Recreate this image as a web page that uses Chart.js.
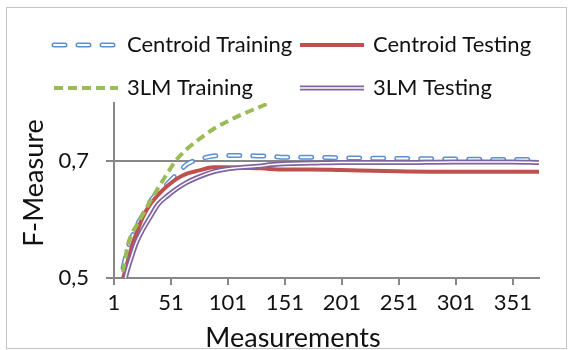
<!DOCTYPE html>
<html lang="en">
<head>
<meta charset="UTF-8">
<title>F-Measure over measurements</title>
<style>
  body { margin: 0; background: #fff; }
  .frame { position: relative; width: 570px; height: 350px; overflow: hidden; }
  .frame-border { position: absolute; left: 6px; top: 7px; width: 561px; height: 342px; border: 1px solid #c4c4c4; box-sizing: border-box; }
  #chart { position: absolute; left: 0; top: 0; }
</style>
</head>
<body>
<div class="frame">
  <div class="frame-border"></div>
  <canvas id="chart" width="570" height="350"></canvas>
</div>

<script src="https://cdn.jsdelivr.net/npm/chart.js@4.4.1/dist/chart.umd.min.js"></script>
<script>
  // values
  const measurements     = [9, 13, 17, 21, 26, 32, 40, 48, 56, 65, 75, 88, 100, 115, 130, 137, 150, 175, 200, 250, 300, 350, 375];
  const centroidTraining = [0.517, 0.550, 0.571, 0.590, 0.607, 0.629, 0.648, 0.662, 0.678, 0.695, 0.703, 0.709, 0.710, 0.710, 0.709, 0.709, 0.707, 0.707, 0.706, 0.705, 0.704, 0.703, 0.703];
  const centroidTesting  = [0.500, 0.527, 0.556, 0.578, 0.603, 0.624, 0.643, 0.658, 0.670, 0.679, 0.684, 0.690, 0.690, 0.689, 0.688, 0.687, 0.686, 0.686, 0.685, 0.683, 0.682, 0.682, 0.682];
  const lmTraining       = [0.510, 0.556, 0.577, 0.591, 0.608, 0.629, 0.655, 0.680, 0.703, 0.721, 0.737, 0.755, 0.768, 0.782, 0.794, 0.800, null, null, null, null, null, null, null];
  const lmTesting        = [0.485, 0.515, 0.540, 0.562, 0.582, 0.602, 0.627, 0.641, 0.653, 0.664, 0.673, 0.682, 0.687, 0.690, 0.692, 0.694, 0.696, 0.697, 0.698, 0.698, 0.699, 0.699, 0.698];
  const seriesNames = ['Centroid Training', 'Centroid Testing', '3LM Training', '3LM Testing'];
  const xTicks = [1, 51, 101, 151, 201, 251, 301, 351];
  const yTicks = [0.5, 0.7];
  const xTitle = 'Measurements';
  const yTitle = 'F-Measure';

  const FONT = 'Lato, "Open Sans", sans-serif';
  const GREY = '#878787';

  function points(values) {
    return measurements.map((m, i) => ({ x: m, y: values[i] }));
  }

  const line = { pointRadius: 0, fill: false, cubicInterpolationMode: 'monotone', clip: 0 };

  const datasets = [
    { ...line, label: seriesNames[0], data: points(centroidTraining), borderColor: '#5b8fd0', borderWidth: 5, borderDash: [11, 13], borderCapStyle: 'round', order: 5 },
    { ...line, label: '', inner: true, data: points(centroidTraining), borderColor: '#ffffff', borderWidth: 2, borderDash: [11, 13], borderCapStyle: 'round', order: 4 },
    { ...line, label: seriesNames[1], data: points(centroidTesting), borderColor: '#c0504d', borderWidth: 4, order: 3 },
    { ...line, label: seriesNames[2], data: points(lmTraining), borderColor: '#9bbb59', borderWidth: 4, borderDash: [9, 5], order: 2 },
    { ...line, label: seriesNames[3], data: points(lmTesting), borderColor: '#8064a2', borderWidth: 5, order: 1 },
    { ...line, label: '', inner: true, data: points(lmTesting), borderColor: '#ffffff', borderWidth: 1.5, order: 0 }
  ];

  // legend in two rows with line samples, plus the axis titles where the original puts them
  const cornerLegend = {
    id: 'cornerLegend',
    afterDraw(chart) {
      const ctx = chart.ctx;
      const spots = [[52, 45], [298, 45], [52, 88], [298, 88]];
      const ds = chart.data.datasets;
      seriesNames.forEach((name, i) => {
        const [x, y] = spots[i];
        const idx = ds.findIndex(d => d.label === name);
        const parts = [ds[idx]];
        if (ds[idx + 1] && ds[idx + 1].inner) parts.push(ds[idx + 1]);
        parts.forEach(d => {
          ctx.save();
          ctx.strokeStyle = d.borderColor;
          ctx.lineWidth = d.borderWidth;
          ctx.lineCap = d.borderCapStyle || 'butt';
          ctx.setLineDash(d.borderDash || []);
          ctx.beginPath();
          ctx.moveTo(x + 2, y);
          ctx.lineTo(x + 66, y);
          ctx.stroke();
          ctx.restore();
        });
        ctx.save();
        ctx.fillStyle = '#111';
        ctx.font = '22px ' + FONT;
        ctx.textBaseline = 'middle';
        ctx.fillText(name, x + 75, y);
        ctx.restore();
      });

      ctx.save();
      ctx.fillStyle = '#111';
      ctx.font = '27px ' + FONT;
      ctx.textAlign = 'center';
      ctx.textBaseline = 'alphabetic';
      ctx.fillText(xTitle, 293, 347);
      ctx.translate(43, 183);
      ctx.rotate(-Math.PI / 2);
      ctx.fillText(yTitle, 0, 0);
      ctx.restore();
    }
  };

  new Chart(document.getElementById('chart'), {
    type: 'line',
    data: { datasets: datasets },
    plugins: [cornerLegend],
    options: {
      responsive: false,
      animation: false,
      layout: { padding: { top: 103, right: 31, left: 0, bottom: 0 } },
      plugins: { legend: { display: false }, tooltip: { enabled: false } },
      scales: {
        x: {
          type: 'linear',
          min: 1,
          max: 374,
          afterFit: s => { s.height = 72; },
          afterBuildTicks: s => { s.ticks = xTicks.map(v => ({ value: v })); },
          grid: { drawOnChartArea: false, drawTicks: true, tickLength: 7, color: GREY, lineWidth: 2 },
          border: { display: true, color: GREY, width: 2 },
          ticks: { color: '#111', padding: 5, maxRotation: 0, autoSkip: false, font: { family: FONT, size: 22 } }
        },
        y: {
          min: 0.5,
          max: 0.8,
          afterFit: s => { s.width = 114; },
          afterBuildTicks: s => { s.ticks = yTicks.map(v => ({ value: v })); },
          grid: { drawTicks: true, tickLength: 8, color: GREY, lineWidth: 2 },
          border: { display: true, color: GREY, width: 2 },
          ticks: {
            color: '#111', padding: 17, font: { family: FONT, size: 22 },
            callback: v => v.toFixed(1).replace('.', ',')
          }
        }
      }
    }
  });
</script>
</body>
</html>
